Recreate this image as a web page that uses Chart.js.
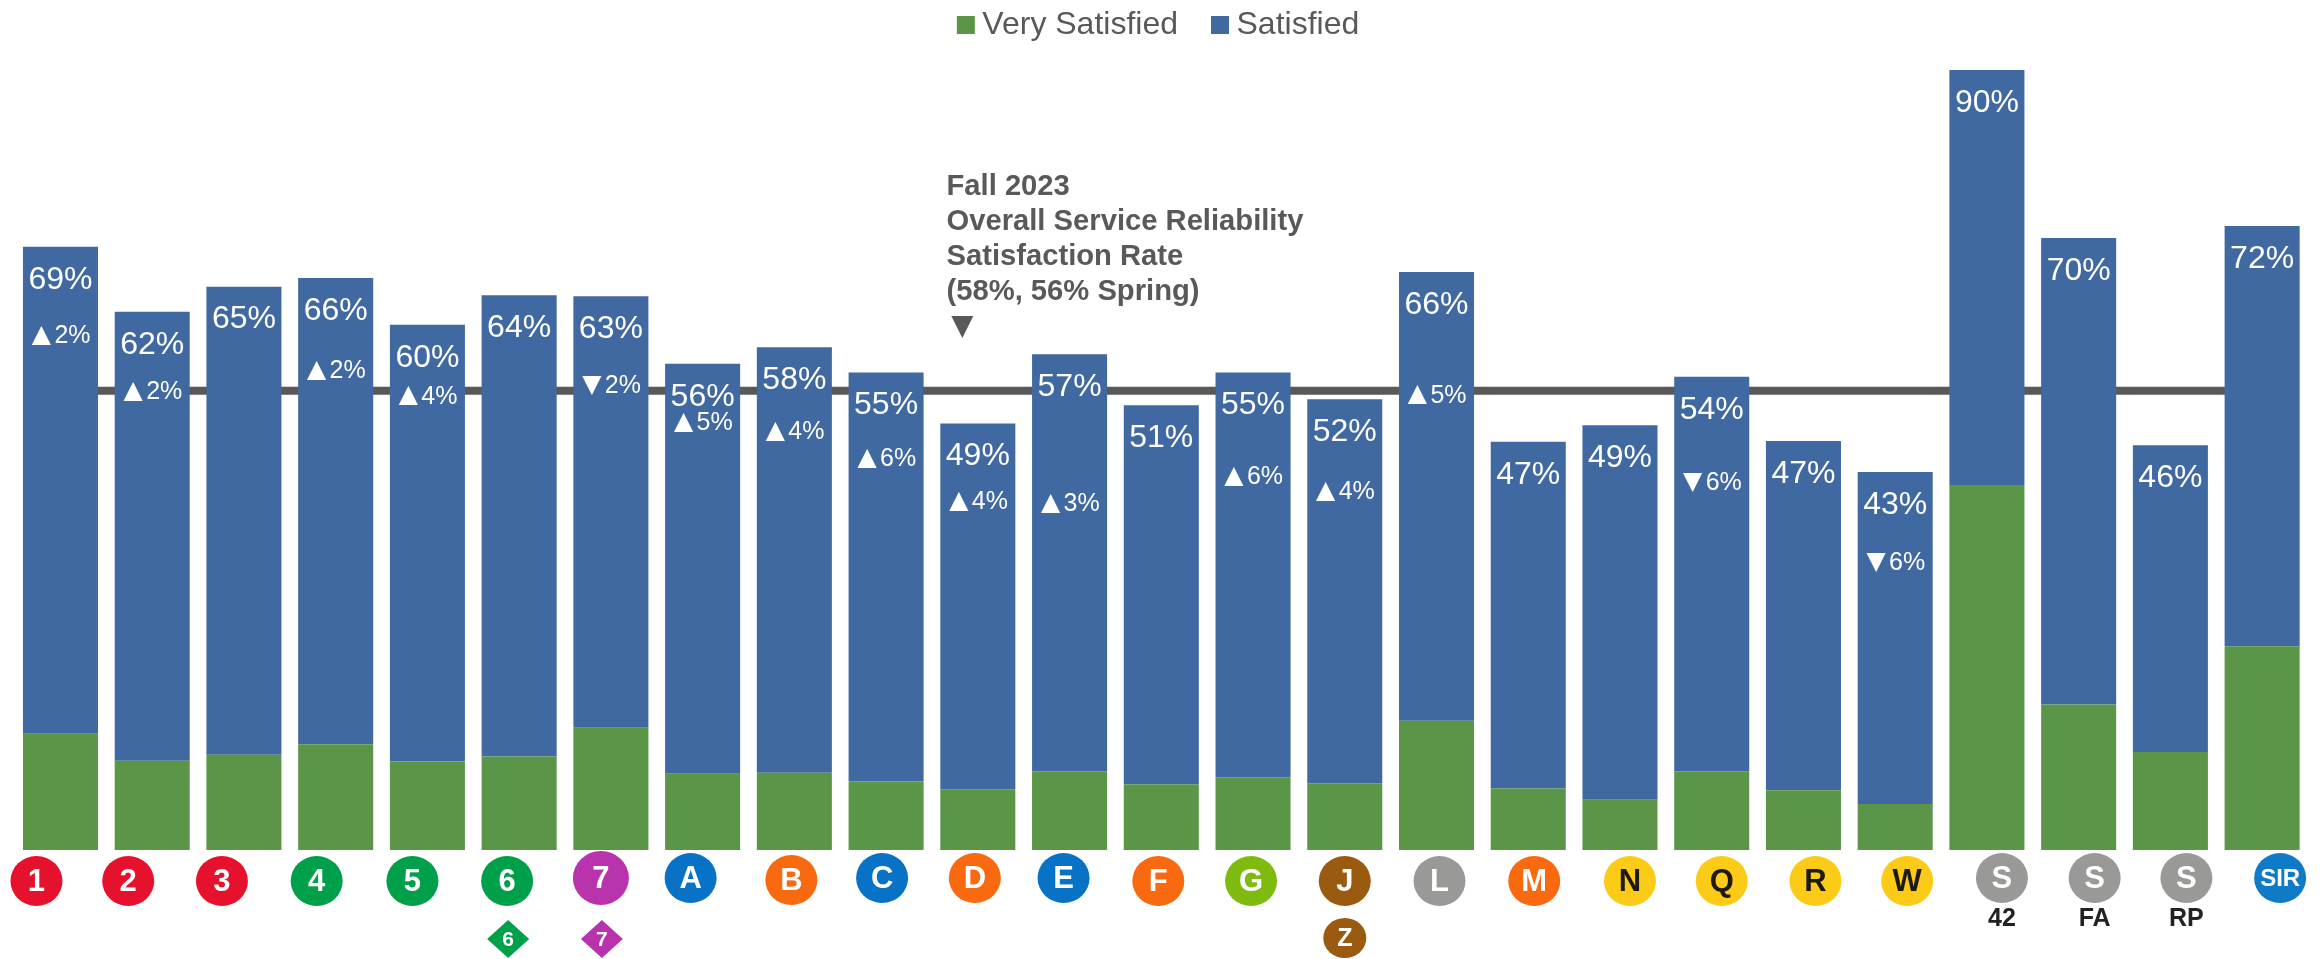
<!DOCTYPE html>
<html><head><meta charset="utf-8">
<script src="https://cdn.jsdelivr.net/npm/chart.js@4"></script>
<style>html,body{margin:0;padding:0;background:#fff}#w{width:2323px;height:959px;position:relative}</style>
</head><body><div id="w"><canvas id="c"></canvas></div>
<script>
const categories=["1","2","3","4","5","6","7","A","B","C","D","E","F","G","J","L","M","N","Q","R","W","S","S","S","SIR"];
const subLabels=["","","","","","6","7","","","","","","","","Z","","","","","","","42","FA","RP",""];
const totals=[69,62,65,66,60,64,63,56,58,55,49,57,51,55,52,66,47,49,54,47,43,90,70,46,72];
const barTotals=[69.6,62.1,65,66,60.6,64,63.9,56.1,58,55.1,49.2,57.2,51.3,55.1,52,66.7,47.1,49,54.6,47.2,43.6,90,70.6,46.7,72];
const verySatisfied=[13.4,10.3,11,12.2,10.2,10.8,14.1,8.8,8.9,7.9,7,9.1,7.6,8.4,7.7,14.9,7.1,5.8,9.1,6.9,5.3,42.1,16.8,11.3,23.5];
const satisfied=[56.2,51.8,54,53.8,50.4,53.2,49.8,47.3,49.1,47.2,42.2,48.1,43.7,46.7,44.3,51.8,40,43.2,45.5,40.3,38.3,47.9,53.8,35.4,48.5];
const changes=["▲2%","▲2%","","▲2%","▲4%","","▼2%","▲5%","▲4%","▲6%","▲4%","▲3%","","▲6%","▲4%","▲5%","","","▼6%","","▼6%","","","",""];
const changeLevels=[59.3,52.8,0,55.2,52.3,0,53.5,49.2,48.2,45.1,40.1,39.9,0,43,41.3,52.4,0,0,42.3,0,33.1,0,0,0,0];
const referenceRate=categories.map(()=>53);
const annotation=["Fall 2023","Overall Service Reliability","Satisfaction Rate","(58%, 56% Spring)"];
const iconNudge=[-24,-24,-22,-19,-15,-12,-10,-12,-3,-4,-3,-6,-3,-2,0,3,6,10,10,12,12,15,16,16,18];
const iconY=[881,881,881,881,881,881,878,878,880,878,878,878,881,881,881,881,881,881,881,881,881,878,878,878,878];
const iconColors=["#E6122D","#E6122D","#E6122D","#00A04A","#00A04A","#00A04A","#B933AD","#0772C6","#F96A10","#0772C6","#F96A10","#0772C6","#F96A10","#7FBB0E","#9A5B10","#999A98","#F96A10","#FBCB18","#FBCB18","#FBCB18","#FBCB18","#999A98","#999A98","#999A98","#0F7BC6"];

const FONT='"Liberation Sans",Arial,sans-serif';
const legendPlacer={id:'legendPlacer',
  beforeLayout(chart){
    const lg=chart.legend;
    if(lg&&!lg._wrapped){const f=lg.fit;lg.fit=function(){f.call(this);this.height=0;};lg._wrapped=true;}
  },
  beforeDraw(chart){const lg=chart.legend;lg.top=-32.5;lg.bottom=60;if(!lg._shifted){lg.left+=1;lg.right+=1;lg._shifted=true;}}
};
const decor={id:'decor',afterDraw(chart){
  const {ctx,scales:{x,y}}=chart;
  ctx.save();
  ctx.textAlign='center';ctx.textBaseline='middle';
  categories.forEach((_,i)=>{
    const cx=x.getPixelForValue(i);
    ctx.fillStyle='#fff';
    ctx.font='32px '+FONT;
    ctx.fillText(totals[i]+'%',cx,y.getPixelForValue(barTotals[i])+33);
    if(changes[i]){
      const yy=y.getPixelForValue(changeLevels[i]);
      const tri=changes[i][0],rest=changes[i].slice(1);
      ctx.font='25px '+FONT;
      const tw=ctx.measureText(rest).width,triW=22,x0=cx-(tw+triW)/2+1;
      ctx.textAlign='left';ctx.fillText(rest,x0+triW,yy);
      ctx.textAlign='center';ctx.font='25px "DejaVu Sans"';ctx.fillText(tri,x0+9,yy-1);
    }
    const ix=cx+iconNudge[i],iy=iconY[i],big=categories[i]==='7';
    ctx.fillStyle=iconColors[i];
    ctx.beginPath();ctx.ellipse(ix,iy,big?28:26,big?27:25,0,0,Math.PI*2);ctx.fill();
    const dark=iconColors[i]==='#FBCB18';
    ctx.fillStyle=dark?'#1c1a12':'#fff';
    ctx.font='bold '+(categories[i]==='SIR'?24:31)+'px '+FONT;
    ctx.fillText(categories[i],ix,iy+1);
    const sub=subLabels[i];
    if(sub==='6'||sub==='7'){
      const dx=ix+1,dy=939;
      ctx.fillStyle=iconColors[i];
      ctx.beginPath();ctx.moveTo(dx,dy-19);ctx.lineTo(dx+21,dy);ctx.lineTo(dx,dy+19);ctx.lineTo(dx-21,dy);ctx.closePath();ctx.fill();
      ctx.fillStyle='#fff';ctx.font='bold 21px '+FONT;ctx.fillText(sub,dx,dy+1);
    }else if(sub==='Z'){
      ctx.fillStyle=iconColors[i];
      ctx.beginPath();ctx.ellipse(ix,938,21.5,20,0,0,Math.PI*2);ctx.fill();
      ctx.fillStyle='#fff';ctx.font='bold 25px '+FONT;ctx.fillText(sub,ix,939);
    }else if(sub){
      ctx.fillStyle='#222';ctx.font='bold 25px '+FONT;ctx.fillText(sub,ix,919);
    }
  });
  ctx.textAlign='left';ctx.fillStyle='#595959';ctx.font='bold 29.2px '+FONT;
  annotation.forEach((t,k)=>ctx.fillText(t,946.5,187+k*35));
  const ax=x.getPixelForValue(10)-15.5, ay=316;
  ctx.beginPath();ctx.moveTo(ax-11,ay);ctx.lineTo(ax+11,ay);ctx.lineTo(ax,ay+22);ctx.closePath();ctx.fill();
  ctx.restore();
}};

new Chart(document.getElementById('c'),{
  type:'bar',
  data:{labels:categories,datasets:[
    {label:'Very Satisfied',data:verySatisfied,backgroundColor:'#5B9648',order:1},
    {label:'Satisfied',data:satisfied,backgroundColor:'#4169A1',order:1},
    {type:'line',label:'Overall Service Reliability Satisfaction Rate',data:referenceRate,borderColor:'#595959',backgroundColor:'#595959',borderWidth:8,pointRadius:0,order:2}
  ]},
  options:{
    responsive:true,maintainAspectRatio:false,animation:false,
    layout:{padding:{left:14.6,right:15,top:0,bottom:109}},
    datasets:{bar:{barPercentage:0.818,categoryPercentage:1}},
    scales:{
      x:{stacked:true,display:false,offset:true},
      y:{stacked:true,display:false,min:0,max:98.07}
    },
    plugins:{
      tooltip:{enabled:false},
      legend:{position:'top',align:'center',
        labels:{usePointStyle:true,pointStyle:'rect',boxWidth:1,boxHeight:18,padding:41.5,color:'#595959',font:{family:FONT,size:32},
          filter:(it)=>it.datasetIndex<2}}
    }
  },
  plugins:[legendPlacer,decor]
});
</script></body></html>
